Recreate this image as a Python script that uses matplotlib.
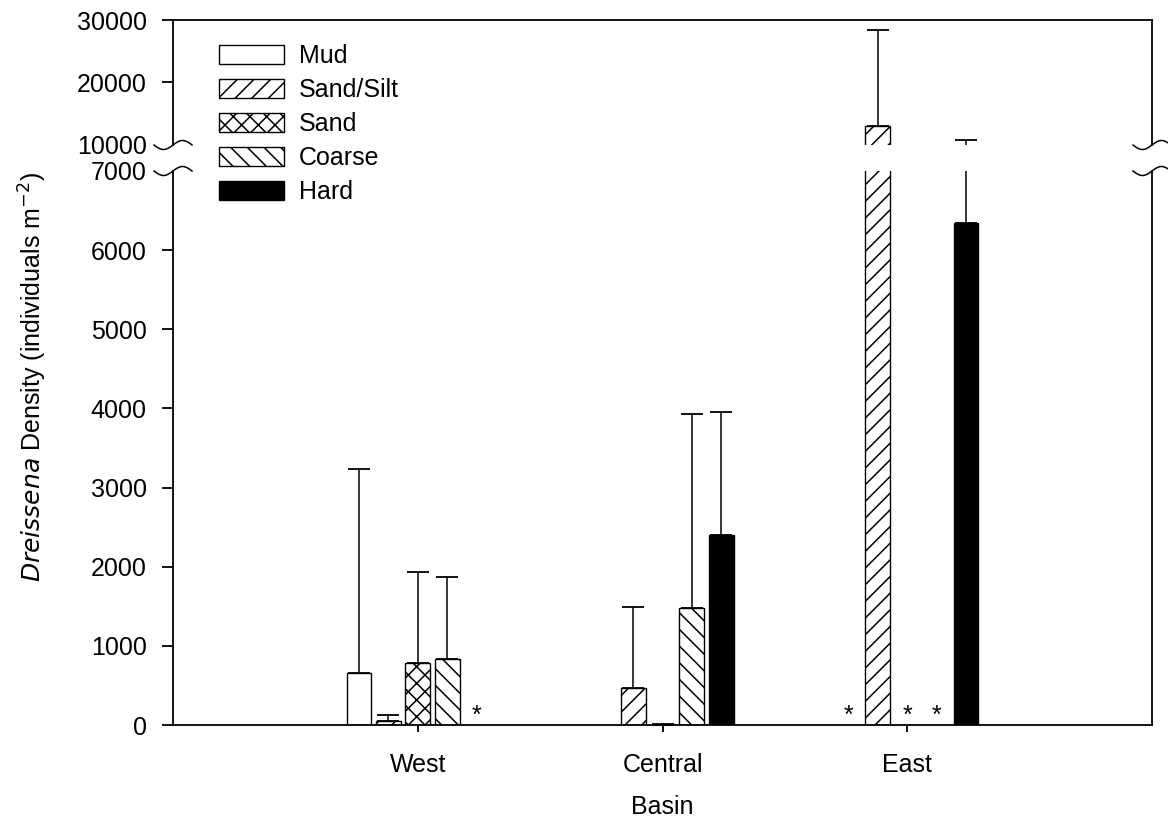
import numpy as np
import matplotlib
matplotlib.use("Agg")
import matplotlib.pyplot as plt
from matplotlib.patches import Patch
from matplotlib.lines import Line2D

plt.rcParams['font.family'] = ['Liberation Sans', 'DejaVu Sans']
plt.rcParams['hatch.linewidth'] = 1.1

basins = ['West', 'Central', 'East']
substrates = ['Mud', 'Sand/Silt', 'Sand', 'Coarse', 'Hard']
hatches = ['', '//', 'xx', '\\\\', '']
fills = ['white', 'white', 'white', 'white', 'black']

# mean density per substrate, one value per basin (nan = no sample)
mud = [662, np.nan, np.nan]
sand_silt = [50, 468, 13000]
sand = [785, 5, np.nan]
coarse = [835, 1481, np.nan]
hard = [np.nan, 2401, 6342]
means = [mud, sand_silt, sand, coarse, hard]

# upper standard error
mud_se = [2578, np.nan, np.nan]
sand_silt_se = [77, 1022, 15400]
sand_se = [1148, 8, np.nan]
coarse_se = [1035, 2452, np.nan]
hard_se = [np.nan, 1552, 4458]
errs = [mud_se, sand_silt_se, sand_se, coarse_se, hard_se]

# substrate not sampled in a basin -> asterisk
no_sample = [[0, 0, 1], [0, 0, 0], [0, 0, 1], [0, 0, 1], [1, 0, 0]]

W, H = 1168, 822
fig = plt.figure(figsize=(W / 100, H / 100), dpi=100)
ax_lo = fig.add_axes([173 / W, (H - 725) / H, 979 / W, (725 - 171) / H])
ax_hi = fig.add_axes([173 / W, (H - 145) / H, 979 / W, (145 - 20) / H])

x = np.arange(1, len(basins) + 1)
step = 0.12
width = 0.102
fs = 18

for ax in (ax_lo, ax_hi):
    for i, name in enumerate(substrates):
        m = np.array(means[i], dtype=float)
        e = np.array(errs[i], dtype=float)
        ok = np.isfinite(m)
        xs = x[ok] + (i - 2) * step
        ax.bar(xs, m[ok], width, color=fills[i], edgecolor='black',
               linewidth=1.0, hatch=hatches[i])
        ax.errorbar(xs, m[ok], yerr=[np.zeros(ok.sum()), e[ok]], fmt='none',
                    ecolor='black', elinewidth=1.1, capsize=8, capthick=1.3)
    ax.set_xlim(0, 4)
    for side in ('left', 'right', 'top', 'bottom'):
        ax.spines[side].set_linewidth(1.3)

ax_lo.set_ylim(0, 7000)
ax_hi.set_ylim(10000, 30000)
ax_lo.spines['top'].set_visible(False)
ax_hi.spines['bottom'].set_visible(False)

ax_lo.set_yticks(np.arange(0, 7001, 1000))
ax_hi.set_yticks([10000, 20000, 30000])
for ax in (ax_lo, ax_hi):
    ax.tick_params(axis='y', direction='out', length=8, width=1.3,
                   labelsize=fs, pad=11)
ax_lo.yaxis.get_major_ticks()[-1].tick1line.set_visible(False)
ax_hi.yaxis.get_major_ticks()[0].tick1line.set_visible(False)

ax_hi.set_xticks([])
ax_lo.set_xticks(x)
ax_lo.set_xticklabels(basins)
ax_lo.tick_params(axis='x', direction='out', length=5, width=1.3,
                  labelsize=fs, pad=15)
ax_lo.set_xlabel('Basin', fontsize=fs, labelpad=13)

# asterisks where a substrate was not sampled
for i in range(len(substrates)):
    for j in range(len(basins)):
        if no_sample[i][j]:
            ax_lo.annotate('*', (x[j] + (i - 2) * step, 0), xytext=(0, -2),
                           textcoords='offset points', ha='center',
                           va='bottom', fontsize=18)

fig.text(33 / W, 1 - 377 / H,
         r'$\it{Dreissena}$ Density (individuals m$^{-2}$)',
         rotation=90, ha='center', va='center', fontsize=fs)


# squiggle marks on both sides of the axis break
def squiggle(ax, xf, at_bottom):
    pos = ax.get_position()
    yf = pos.y0 if at_bottom else pos.y1
    t = np.linspace(-1, 1, 60)
    xs = xf + t * 19 / W
    ys = yf + np.sin(np.pi * t) * 4.5 / H
    fig.add_artist(Line2D(xs, ys, color='black', lw=1.1,
                          transform=fig.transFigure))


for xf in (ax_lo.get_position().x0, ax_lo.get_position().x1):
    squiggle(ax_hi, xf, True)
    squiggle(ax_lo, xf, False)

handles = [Patch(facecolor=fills[i], edgecolor='black', hatch=hatches[i],
                 linewidth=1.0) for i in range(len(substrates))]
fig.legend(handles, substrates, loc='upper left',
           bbox_to_anchor=(219 / W, 1 - 44 / H), frameon=False,
           fontsize=fs, handlelength=2.6, handleheight=0.8,
           labelspacing=0.40, handletextpad=0.6, borderpad=0,
           borderaxespad=0)

fig.savefig('out.png', dpi=100)
